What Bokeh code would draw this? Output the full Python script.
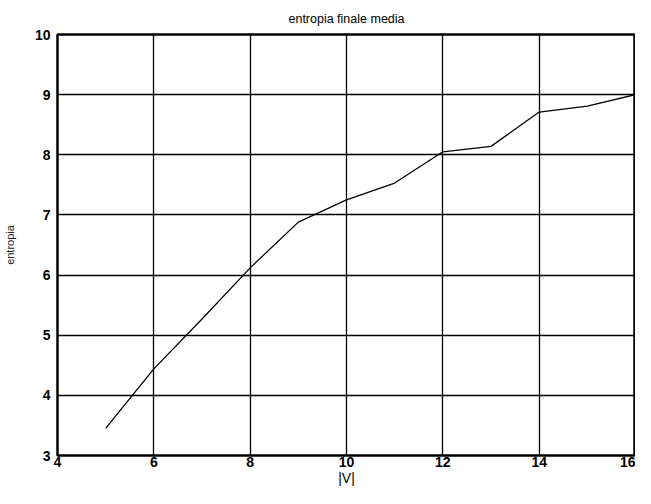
from bokeh.plotting import figure
from bokeh.models import Range1d, FixedTicker
from bokeh.embed import file_html
from bokeh.resources import INLINE

x_vals = [5, 6, 7, 8, 9, 10, 11, 12, 13, 14, 15, 16]
y_vals = [3.45, 4.44, 5.27, 6.12, 6.88, 7.25, 7.53, 8.05, 8.14, 8.71, 8.81, 9.0]
x_ticks = [4, 6, 8, 10, 12, 14, 16]
y_ticks = [3, 4, 5, 6, 7, 8, 9, 10]

FONT = "Liberation Sans"

p = figure(width=635, height=488, output_backend="svg", toolbar_location=None,
           x_range=Range1d(4, 16), y_range=Range1d(3, 10),
           title="entropia finale media",
           min_border_left=0, min_border_right=0, min_border_top=0, min_border_bottom=0)

p.line(x_vals, y_vals, line_color="black", line_width=1.3)

p.title.align = "center"
p.title.text_font = FONT
p.title.text_font_size = "12.5px"
p.title.text_font_style = "normal"
p.title.text_color = "black"
p.title.offset = 0
p.title.standoff = 18

p.outline_line_color = "black"
p.outline_line_width = 2.5
p.outline_line_alpha = 1

for ax in (p.xaxis[0], p.yaxis[0]):
    ax.axis_line_color = None
    ax.major_tick_line_color = None
    ax.minor_tick_line_color = None
    ax.major_tick_out = 0
    ax.major_tick_in = 0
    ax.minor_tick_out = 0
    ax.minor_tick_in = 0
    ax.major_label_text_font = FONT
    ax.major_label_text_font_style = "bold"
    ax.major_label_text_font_size = "14px"
    ax.major_label_text_color = "black"
    ax.axis_label_text_font = FONT
    ax.axis_label_text_font_style = "normal"
    ax.axis_label_text_color = "black"

p.xaxis[0].ticker = FixedTicker(ticks=x_ticks)
p.yaxis[0].ticker = FixedTicker(ticks=y_ticks)
p.xaxis[0].axis_label = "|V|"
p.xaxis[0].axis_label_text_font_size = "14px"
p.xaxis[0].major_label_standoff = 1
p.xaxis[0].axis_label_standoff = 0
p.yaxis[0].axis_label = "entropia"
p.yaxis[0].axis_label_text_font_size = "11px"
p.yaxis[0].axis_label_text_color = "#222222"
p.yaxis[0].major_label_standoff = 7
p.yaxis[0].axis_label_standoff = 16

p.xgrid.ticker = FixedTicker(ticks=x_ticks)
p.ygrid.ticker = FixedTicker(ticks=y_ticks)
for g in (p.xgrid[0], p.ygrid[0]):
    g.grid_line_color = "black"
    g.grid_line_width = 1.3
    g.grid_line_alpha = 1

p.background_fill_color = "white"
p.border_fill_color = "white"

open("out.html", "w").write(file_html(p, INLINE))
